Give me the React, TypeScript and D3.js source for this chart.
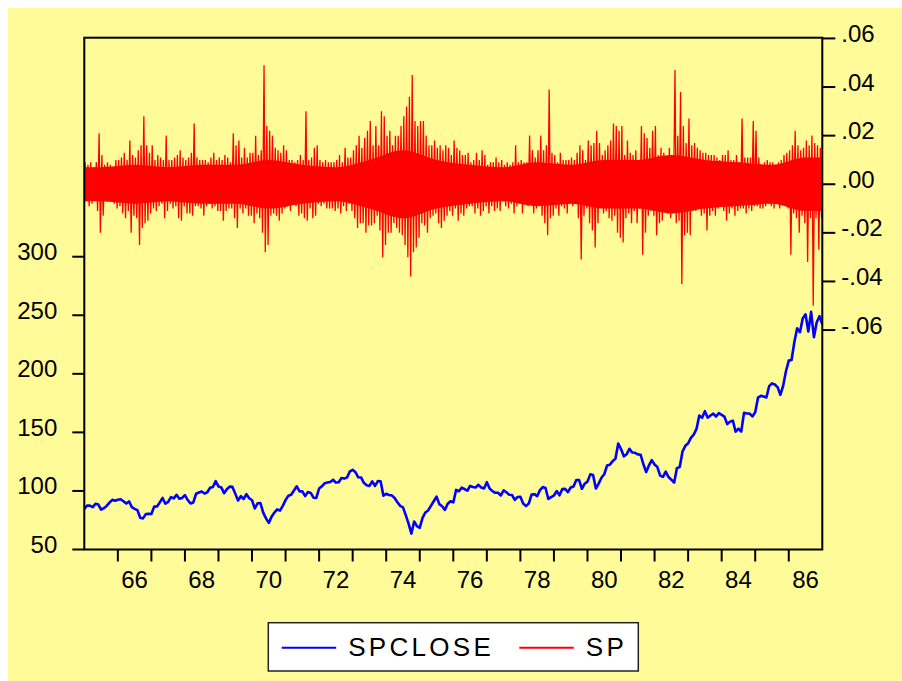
import React from 'react';
import * as d3 from 'd3';

// ---------- DATA ----------
const startYear = 1965;
const endYear = 1987;
const spcloseStart = 84.75;
// SPCLOSE, monthly (end of month), 1965..1986
const spclose = [
  87.56, 87.43, 86.16, 89.11, 88.42, 84.12, 85.25, 87.17, 89.96, 92.42, 91.61, 92.43,
  92.88, 91.22, 89.23, 91.06, 86.13, 84.74, 83.6, 77.1, 76.56, 80.2, 80.45, 80.33,
  86.61, 86.78, 90.2, 94.01, 89.08, 90.64, 94.75, 93.64, 96.71, 93.3, 94.0, 96.47,
  92.24, 89.36, 90.2, 97.59, 98.68, 99.58, 97.74, 98.86, 102.67, 103.41, 108.37, 103.86,
  103.01, 98.13, 101.51, 103.69, 103.46, 97.71, 91.83, 95.51, 93.12, 97.24, 93.81, 92.06,
  85.02, 89.5, 89.63, 81.52, 76.55, 72.72, 78.05, 81.52, 84.21, 83.25, 87.2, 92.15,
  95.88, 96.75, 100.31, 103.95, 99.63, 99.7, 95.58, 99.03, 98.34, 94.23, 93.99, 102.09,
  103.94, 106.57, 107.2, 107.67, 109.53, 107.14, 107.39, 111.09, 110.55, 111.58, 116.67, 118.05,
  116.03, 111.68, 111.52, 106.97, 104.95, 104.26, 108.22, 104.25, 108.43, 108.29, 95.96, 97.55,
  96.57, 96.22, 93.98, 90.31, 87.28, 86.0, 79.31, 72.15, 63.54, 73.9, 69.97, 68.56,
  76.98, 81.59, 83.36, 87.3, 91.15, 95.19, 88.75, 86.88, 83.87, 89.04, 91.24, 90.19,
  100.86, 99.71, 102.77, 101.64, 100.18, 104.28, 103.44, 102.91, 105.24, 102.9, 102.1, 107.46,
  102.03, 99.82, 98.42, 98.44, 96.12, 100.48, 98.85, 96.77, 96.53, 92.34, 94.83, 95.1,
  89.25, 87.04, 89.21, 96.83, 97.24, 95.53, 100.68, 103.29, 102.54, 93.15, 94.7, 96.11,
  99.93, 96.28, 101.59, 101.76, 99.08, 102.91, 103.81, 109.32, 109.32, 101.82, 106.16, 107.94,
  114.16, 113.66, 102.09, 106.29, 111.24, 114.24, 121.67, 122.38, 125.46, 127.47, 140.52, 135.76,
  129.55, 131.27, 136.0, 132.81, 132.59, 131.21, 130.92, 122.79, 116.18, 121.89, 126.35, 122.55,
  120.4, 113.11, 111.96, 116.44, 111.88, 109.61, 107.09, 119.51, 120.42, 133.71, 138.54, 140.64,
  145.3, 148.06, 152.96, 164.42, 162.39, 168.11, 162.56, 164.4, 166.07, 163.55, 166.4, 164.93,
  163.41, 157.06, 159.18, 160.05, 150.55, 153.18, 150.66, 166.68, 166.1, 166.09, 163.58, 167.24,
  179.63, 181.18, 180.66, 179.83, 189.55, 191.85, 190.92, 188.63, 182.08, 189.82, 202.17, 211.28,
  211.78, 226.92, 238.9, 235.52, 247.35, 250.84, 236.12, 252.93, 231.32, 243.98, 249.22, 242.17,
];

// SP (daily return), monthly highest value, in percent
const spMaxPct = [
  0.9, 0.8, 0.9, 0.7, 0.9, 2.1, 1.2, 0.8, 0.9, 0.8, 0.7, 1.0,
  1.0, 1.1, 1.3, 1.0, 1.8, 1.2, 1.1, 1.4, 1.6, 2.8, 1.6, 1.3,
  1.6, 1.0, 1.2, 1.1, 1.0, 2.0, 1.0, 1.0, 1.1, 1.2, 1.4, 1.1,
  1.0, 1.1, 1.3, 2.5, 1.1, 1.0, 1.0, 1.0, 0.9, 1.1, 1.3, 1.0,
  1.1, 1.0, 1.2, 1.1, 0.9, 2.1, 1.6, 1.8, 1.1, 1.5, 1.1, 1.3,
  1.3, 2.0, 1.2, 1.4, 4.9, 2.4, 2.2, 2.0, 1.5, 1.4, 1.3, 1.6,
  1.4, 1.0, 1.0, 0.9, 1.0, 1.2, 1.0, 3.0, 1.0, 1.1, 1.5, 1.6,
  1.0, 0.9, 1.0, 0.9, 0.9, 0.9, 1.0, 1.2, 0.9, 1.5, 1.1, 1.1,
  1.4, 1.6, 2.0, 1.5, 1.9, 2.2, 2.6, 1.6, 2.4, 1.6, 3.0, 2.8,
  2.0, 2.2, 1.6, 2.0, 2.0, 2.4, 2.8, 3.2, 3.6, 4.5, 2.6, 2.4,
  2.6, 2.6, 2.0, 1.6, 1.6, 1.8, 1.5, 1.6, 1.4, 1.6, 1.5, 1.2,
  1.8, 1.5, 1.4, 1.2, 1.2, 1.3, 0.9, 1.0, 1.3, 1.0, 1.4, 1.2,
  0.8, 0.9, 0.9, 1.1, 0.9, 1.0, 0.8, 0.9, 0.8, 0.9, 1.6, 0.9,
  1.0, 0.9, 0.9, 2.0, 1.4, 1.1, 1.4, 2.0, 1.4, 1.6, 3.9, 1.3,
  1.2, 0.9, 1.3, 1.0, 1.0, 1.0, 1.1, 1.0, 1.3, 1.6, 1.4, 1.0,
  1.8, 1.6, 1.7, 2.2, 1.7, 1.2, 1.4, 1.6, 1.8, 2.5, 2.4, 2.2,
  2.4, 1.2, 1.8, 1.3, 1.2, 1.4, 1.0, 2.4, 2.1, 1.9, 1.5, 2.2,
  2.4, 1.2, 1.5, 1.3, 1.0, 1.5, 1.2, 4.7, 2.0, 3.8, 2.4, 1.7,
  2.7, 1.6, 1.7, 1.5, 1.4, 1.3, 1.3, 1.2, 1.2, 1.2, 1.1, 1.0,
  1.2, 1.2, 1.4, 1.0, 1.0, 1.2, 0.9, 2.7, 1.1, 1.1, 1.1, 2.6,
  2.2, 1.1, 0.8, 0.9, 1.0, 0.9, 0.9, 0.8, 0.9, 1.0, 1.2, 1.3,
  1.4, 1.6, 2.2, 1.6, 1.4, 1.5, 1.8, 1.6, 2.0, 1.7, 1.6, 1.5,
];

// SP, monthly lowest value, in percent
const spMinPct = [
  -0.7, -0.9, -0.8, -0.6, -1.1, -2.0, -1.3, -0.7, -0.7, -0.6, -0.8, -1.0,
  -0.9, -1.2, -1.4, -1.1, -2.0, -1.3, -1.4, -2.5, -1.8, -1.6, -1.5, -1.2,
  -1.0, -1.1, -0.9, -0.8, -1.4, -1.1, -0.8, -1.0, -0.9, -1.4, -1.5, -0.9,
  -1.2, -1.2, -1.3, -0.9, -0.9, -1.0, -1.3, -0.9, -0.8, -1.0, -0.9, -1.1,
  -1.1, -1.5, -1.1, -1.0, -1.0, -1.4, -1.8, -1.0, -1.2, -1.0, -1.3, -1.3,
  -1.6, -1.2, -1.4, -2.0, -2.8, -2.5, -1.3, -1.2, -1.3, -1.5, -1.2, -1.0,
  -0.9, -1.1, -0.8, -0.9, -1.3, -1.2, -1.4, -1.5, -1.0, -1.4, -1.3, -0.8,
  -0.9, -0.8, -1.0, -1.0, -1.0, -1.1, -1.0, -1.2, -0.9, -1.1, -0.8, -1.1,
  -1.4, -1.8, -1.6, -1.6, -2.0, -1.7, -1.7, -1.6, -1.3, -1.9, -3.0, -2.5,
  -2.0, -2.0, -1.6, -1.8, -2.0, -2.1, -2.5, -3.0, -3.8, -2.8, -2.6, -2.2,
  -1.6, -1.7, -2.0, -1.4, -1.3, -1.2, -1.6, -1.8, -1.5, -1.3, -1.1, -1.3,
  -1.0, -1.5, -1.2, -1.3, -1.0, -0.9, -0.9, -1.2, -1.0, -1.3, -1.1, -0.9,
  -1.2, -0.9, -1.1, -1.0, -1.1, -0.7, -0.9, -1.0, -0.8, -1.2, -0.9, -0.8,
  -1.2, -0.8, -0.9, -0.7, -1.2, -1.0, -0.9, -1.3, -1.6, -2.1, -1.4, -1.3,
  -1.0, -1.3, -0.9, -1.0, -1.2, -0.8, -0.9, -0.8, -1.4, -3.1, -1.3, -1.0,
  -1.6, -1.9, -2.6, -1.6, -0.9, -1.2, -1.1, -1.4, -1.5, -1.3, -2.0, -2.2,
  -2.4, -1.4, -1.2, -1.6, -1.1, -1.6, -1.0, -2.9, -2.0, -1.3, -1.1, -1.3,
  -2.1, -1.6, -1.5, -1.0, -1.2, -1.4, -1.1, -1.6, -1.5, -4.1, -2.1, -2.0,
  -2.1, -1.1, -1.1, -1.0, -1.3, -1.2, -1.9, -1.3, -1.1, -1.3, -1.0, -0.9,
  -1.1, -1.5, -1.2, -1.0, -1.3, -1.1, -1.0, -1.0, -1.2, -1.0, -1.1, -0.9,
  -0.9, -1.0, -1.0, -0.9, -0.8, -0.9, -1.0, -0.8, -1.0, -0.8, -0.8, -1.0,
  -2.9, -1.2, -1.4, -2.0, -1.3, -1.6, -3.2, -1.4, -5.0, -1.4, -2.7, -1.4,
];

// SP, half-width of the dense central band per year, in percent
const spCorePct = [0.7, 0.8, 0.7, 0.8, 0.8, 1.0, 0.8, 0.7, 1.0, 1.4, 1.0, 0.8, 0.7, 0.9, 0.8, 1.0, 1.0, 1.2, 1.0, 0.9, 0.8, 1.1];

const leftTicks = [50, 100, 150, 200, 250, 300];
const rightTicks = [0.06, 0.04, 0.02, 0, -0.02, -0.04, -0.06];
const rightTickLabels = ['.06', '.04', '.02', '.00', '-.02', '-.04', '-.06'];
const xLabelYears = [1966, 1968, 1970, 1972, 1974, 1976, 1978, 1980, 1982, 1984, 1986];
const legendItems = [
  { name: 'SPCLOSE', color: '#0000FF' },
  { name: 'SP', color: '#FF0000' },
];

// ---------- LAYOUT ----------
const W = 894;
const H = 673;
const L = 76.3;
const R = 814.3;
const T = 29.7;
const B = 541.5;
const BG = '#FFFB99';
const FONT = '"Liberation Sans", Arial, sans-serif';

export default function App() {
  const x = d3.scaleLinear().domain([startYear, endYear]).range([L, R]);
  const yL = d3.scaleLinear().domain([50, 487]).range([B, T]);
  const yR = d3.scaleLinear().domain([-0.1503, 0.0603]).range([B, T]);

  const blue = [{ t: startYear, v: spcloseStart }].concat(
    spclose.map((v, i) => ({ t: startYear + (i + 1) / 12, v }))
  );
  const blueLine = d3.line<{ t: number; v: number }>().x((d) => x(d.t)).y((d) => yL(d.v))(blue) || '';

  const corePts = [{ t: startYear, c: spCorePct[0] }]
    .concat(spCorePct.map((c, i) => ({ t: startYear + i + 0.5, c })))
    .concat([{ t: endYear, c: spCorePct[spCorePct.length - 1] }]);
  const coreArea =
    d3
      .area<{ t: number; c: number }>()
      .x((d) => x(d.t))
      .y0((d) => yR(-d.c / 100))
      .y1((d) => yR(d.c / 100))
      .curve(d3.curveMonotoneX)(corePts) || '';

  // the red series as a trace: for each month, up to its highest value and down to its lowest
  const redPts: { t: number; v: number }[] = [];
  spMaxPct.forEach((mx, i) => {
    redPts.push({ t: startYear + (i + 0.3) / 12, v: mx / 100 });
    redPts.push({ t: startYear + (i + 0.75) / 12, v: spMinPct[i] / 100 });
  });
  const redLine = d3.line<{ t: number; v: number }>().x((d) => x(d.t)).y((d) => yR(d.v))(redPts) || '';

  const yearTicks = d3.range(startYear + 1, endYear);

  return (
    <svg width={W} height={H} style={{ position: 'absolute', left: 8, top: 8, display: 'block' }}>
      <rect x={0} y={0} width={W} height={H} fill={BG} />
      <defs>
        <clipPath id="plotclip">
          <rect x={L} y={T} width={R - L} height={B - T} />
        </clipPath>
      </defs>
      <g clipPath="url(#plotclip)">
        <path d={coreArea} fill="#FF0000" />
        <path d={redLine} fill="none" stroke="#FF0000" strokeWidth={1.3} strokeLinejoin="miter" />
        <path d={blueLine} fill="none" stroke="#0000FF" strokeWidth={2.6} strokeLinejoin="round" />
      </g>
      <rect x={L} y={T} width={R - L} height={B - T} fill="none" stroke="#000" strokeWidth={2} />
      {/* left axis */}
      {leftTicks.map((v) => (
        <g key={'l' + v}>
          <line x1={L - 12} x2={L} y1={yL(v)} y2={yL(v)} stroke="#000" strokeWidth={2} />
          <text x={L - 27} y={yL(v) + 3.5} textAnchor="end" fontFamily={FONT} fontSize={24} fill="#000">
            {v}
          </text>
        </g>
      ))}
      {/* right axis */}
      {rightTicks.map((v, i) => (
        <g key={'r' + i}>
          <line x1={R} x2={R + 13} y1={yR(v)} y2={yR(v)} stroke="#000" strokeWidth={2} />
          <text x={R + 19} y={yR(v) + 3.5} textAnchor="start" fontFamily={FONT} fontSize={24} fill="#000">
            {rightTickLabels[i]}
          </text>
        </g>
      ))}
      {/* bottom axis */}
      {yearTicks.map((yr) => (
        <line key={'x' + yr} x1={x(yr)} x2={x(yr)} y1={B} y2={B + 12} stroke="#000" strokeWidth={2} />
      ))}
      {xLabelYears.map((yr) => (
        <text key={'xl' + yr} x={x(yr + 0.5)} y={B + 38} textAnchor="middle" fontFamily={FONT} fontSize={24} fill="#000">
          {String(yr % 100)}
        </text>
      ))}
      {/* legend */}
      <rect x={260.3} y={614.7} width={370} height={48.3} fill="#FFFFFF" stroke="#222" strokeWidth={1.5} />
      {legendItems.map((it, i) => {
        const lx = i === 0 ? 273.7 : 511.3;
        return (
          <g key={it.name}>
            <line x1={lx} x2={lx + 54.5} y1={639.7} y2={639.7} stroke={it.color} strokeWidth={2} />
            <text x={lx + 66.5} y={648} fontFamily={FONT} fontSize={26} letterSpacing={3.3} fill="#000">
              {it.name}
            </text>
          </g>
        );
      })}
    </svg>
  );
}
